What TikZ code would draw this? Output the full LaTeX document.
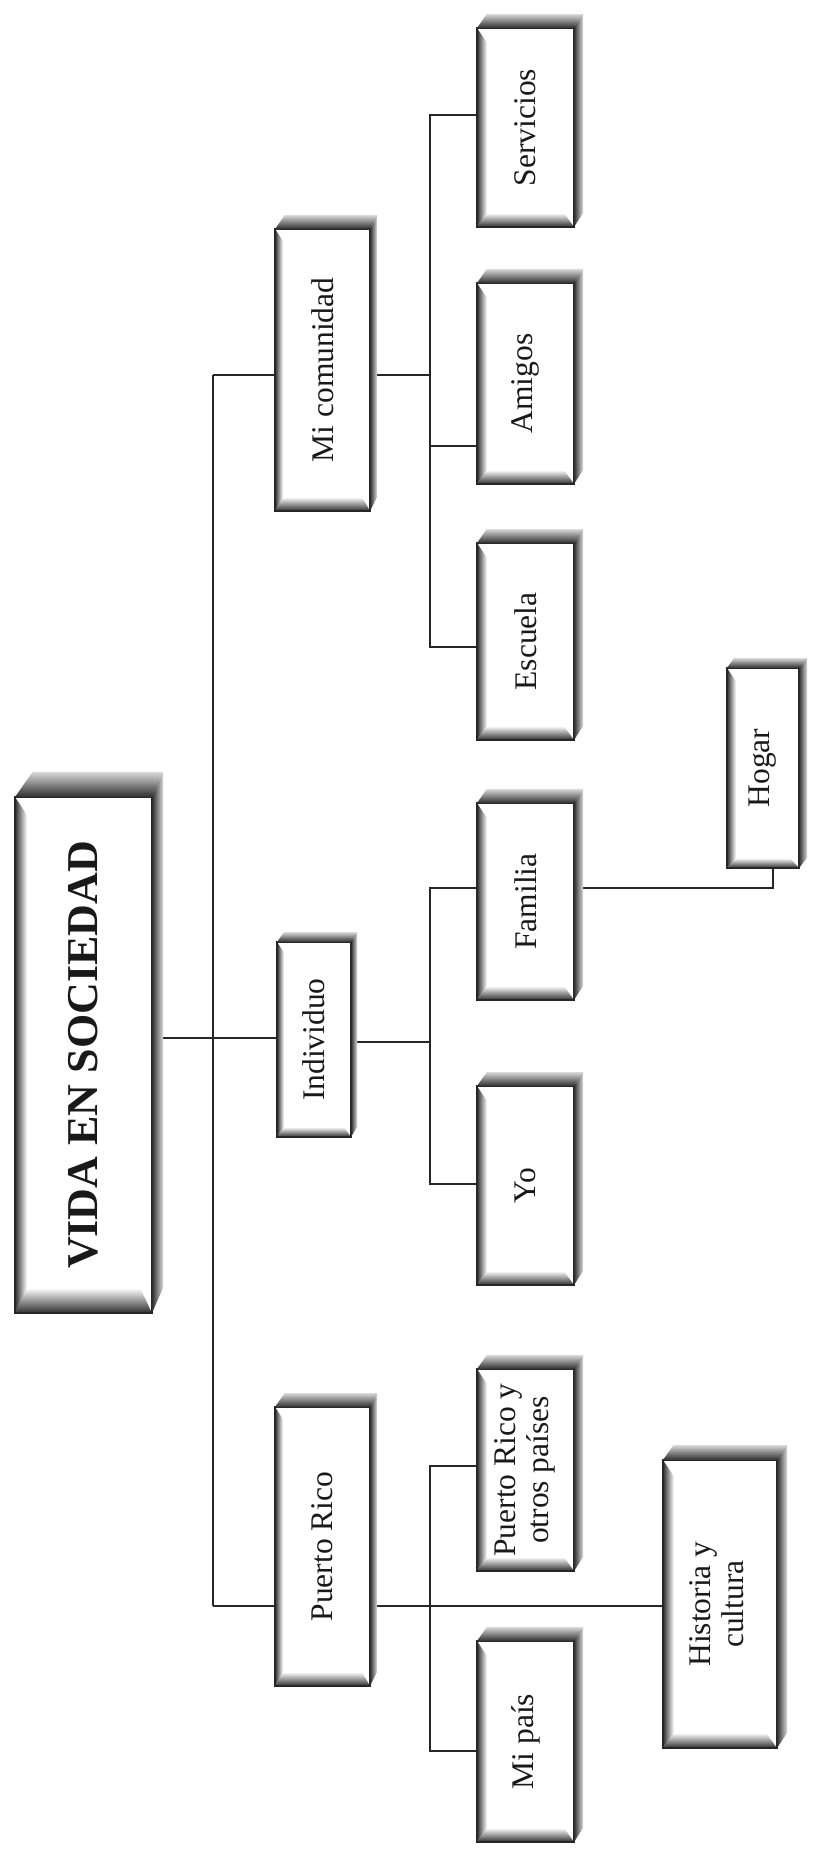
\documentclass[tikz,border=0pt]{standalone}
\usepackage{fontspec}
\setmainfont{Liberation Serif}
\usepackage{graphicx}
\usetikzlibrary{backgrounds}
\definecolor{bvdark}{gray}{0.18}
\definecolor{bvlight}{gray}{0.85}
\tikzset{
  facebox/.style={rectangle, fill=white, draw=none, inner sep=0pt},
  lbl/.style={inner sep=0pt, text=black!90, font=\fontsize{31.5}{33}\selectfont},
  conn/.style={line width=1.3pt, draw=black!85},
  edgeline/.style={line width=1.4pt, draw=black!85},
}
% #1 name, #2 L, #3 T, #4 R, #5 B, #6 top bevel, #7 right bevel, #8 content
\newcommand{\bevbox}[8]{%
  \pgfmathsetmacro{\bvTp}{#3+#6}%
  \pgfmathsetmacro{\bvRp}{#4-#7}%
  \pgfmathsetmacro{\bvW}{\bvRp-#2}%
  \pgfmathsetmacro{\bvH}{#5-\bvTp}%
  \pgfmathsetmacro{\bvCx}{(#2+\bvRp)/2}%
  \pgfmathsetmacro{\bvCy}{(\bvTp+#5)/2}%
  \pgfmathsetmacro{\bvD}{0.7*#6}%
  \pgfmathsetmacro{\bvWl}{#7+1}%
  \pgfmathsetmacro{\bvHb}{#6}%
  \node[facebox, minimum width=\bvW pt, minimum height=\bvH pt] (#1) at (\bvCx,\bvCy) {};
  \shade[left color=bvdark, right color=white] (#2,\bvTp) -- ({#2+\bvWl},{\bvTp+1.5*\bvWl}) -- ({#2+\bvWl},{#5-\bvHb}) -- (#2,#5) -- cycle;
  \shade[top color=white, bottom color=bvdark] (#2,#5) -- ({#2+\bvWl},{#5-\bvHb}) -- ({\bvRp-\bvWl},{#5-\bvHb}) -- (\bvRp,#5) -- cycle;
  \draw[edgeline] (#2,\bvTp) rectangle (\bvRp,#5);
  \shade[top color=bvlight, bottom color=bvdark] (#2,\bvTp) -- ({#2+\bvD},#3) -- (#4,#3) -- (\bvRp,\bvTp) -- cycle;
  \shade[left color=bvdark, right color=bvlight] (\bvRp,\bvTp) -- (#4,#3) -- (#4,{#5-#6}) -- (\bvRp,#5) -- cycle;
  \node[lbl] at (#1.center) {\rotatebox{90}{#8}};
}
\begin{document}
\begin{tikzpicture}[x=1pt,y=-1pt]
\useasboundingbox (0,0) rectangle (817,1850);
% main
\bevbox{main}{15}{772}{163}{1313}{25}{11}{\fontsize{44}{46}\selectfont\bfseries VIDA EN SOCIEDAD}
% level 1
\bevbox{mc}{275}{215}{377}{511}{14}{7}{Mi comunidad}
\bevbox{ind}{277}{932}{357}{1137}{10}{6}{Individuo}
\bevbox{pr}{275}{1393}{377}{1686}{14}{7}{Puerto Rico}
% level 2
\bevbox{serv}{477}{14}{583}{227}{14}{9}{Servicios}
\bevbox{ami}{477}{269}{583}{484}{14}{9}{Amigos}
\bevbox{esc}{477}{529}{583}{740}{14}{9}{Escuela}
\bevbox{fam}{477}{789}{583}{1000}{14}{9}{Familia}
\bevbox{yo}{477}{1072}{583}{1285}{14}{9}{Yo}
\bevbox{prot}{477}{1355}{583}{1571}{14}{9}{\begin{tabular}{@{}c@{}}Puerto Rico y\\otros países\end{tabular}}
\bevbox{mp}{477}{1627}{583}{1842}{14}{9}{Mi país}
% level 3
\bevbox{hog}{727}{658}{807}{868}{10}{8}{Hogar}
\bevbox{hist}{663}{1445}{787}{1748}{15}{10}{\begin{tabular}{@{}c@{}}Historia y\\cultura\end{tabular}}
\begin{pgfonlayer}{background}
\fill[white] (0,0) rectangle (817,1850);
\coordinate (tkA) at (213,375);
\coordinate (tkM) at (213,1038);
\coordinate (tkB) at (213,1606);
\draw[conn] (tkA) -- (tkB);
\draw[conn] (main.east |- tkM) -- (tkM) -- (ind.west |- tkM);
\draw[conn] (tkA) -- (mc.west |- tkA);
\draw[conn] (tkB) -- (pr.west |- tkB);
% bracket Mi comunidad
\coordinate (bAt) at (430,115);
\coordinate (bAa) at (430,446);
\coordinate (bAb) at (430,647);
\coordinate (bAm) at (430,375);
\draw[conn] (mc.east |- bAm) -- (bAm);
\draw[conn] (serv.west |- bAt) -- (bAt) -- (bAb) -- (esc.west |- bAb);
\draw[conn] (bAa) -- (ami.west |- bAa);
% bracket Individuo
\coordinate (bBt) at (430,888);
\coordinate (bBb) at (430,1184);
\coordinate (bBm) at (430,1042);
\draw[conn] (ind.east |- bBm) -- (bBm);
\draw[conn] (fam.west |- bBt) -- (bBt) -- (bBb) -- (yo.west |- bBb);
\coordinate (hk) at (773,888);
\draw[conn] (fam.east |- hk) -- (hk) -- (hk |- hog.south);
% bracket Puerto Rico
\coordinate (bCt) at (430,1466);
\coordinate (bCb) at (430,1751);
\draw[conn] (prot.west |- bCt) -- (bCt) -- (bCb) -- (mp.west |- bCb);
\draw[conn] (pr.east |- tkB) -- (hist.west |- tkB);
\end{pgfonlayer}
\end{tikzpicture}
\end{document}
